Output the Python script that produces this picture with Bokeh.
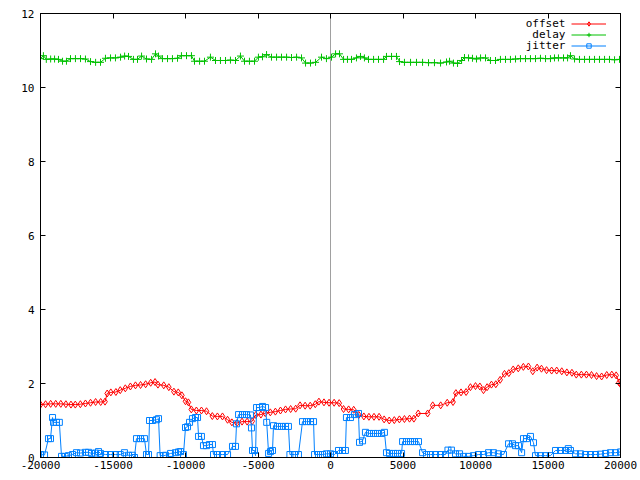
from bokeh.plotting import figure
from bokeh.models import (FixedTicker, LinearAxis, Span, Legend, LegendItem, Label,
                          Range1d, CustomJSTickFormatter)
from bokeh.embed import file_html
from bokeh.resources import INLINE

# ---------------- data ----------------
x_ticks = [-20000, -15000, -10000, -5000, 0, 5000, 10000, 15000, 20000]
x_tick_labels = ["-20000", "-15000", "-10000", "-5000", "0", "5000", "10000", "15000", "20000"]
y_ticks = [0, 2, 4, 6, 8, 10, 12]
y_tick_labels = ["0", "2", "4", "6", "8", "10", "12"]
series_names = ["offset", "delay", "jitter"]

offset_x = [-20000, -19650, -19300, -18950, -18600, -18250, -17900, -17600, -17250, -16900,
            -16550, -16200, -15850, -15550, -15400, -15150, -14800, -14500, -14150, -13800,
            -13450, -13100, -12750, -12400, -12100, -11900, -11500, -11150, -10800, -10500,
            -10250, -10000, -9800, -9600, -9250, -8900, -8550, -8150, -7800, -7450,
            -7100, -6800, -6450, -6100, -5750, -5400, -5150, -4800, -4500, -4150,
            -3800, -3450, -3100, -2750, -2400, -2100, -1750, -1400, -1050, -800,
            -450, -100, 250, 600, 900, 1250, 1600, 1950, 2300, 2650,
            3000, 3350, 3700, 4050, 4400, 4750, 5100, 5450, 5750, 6050,
            6700, 7050, 7600, 8050, 8450, 8650, 9000, 9350, 9650, 10000,
            10300, 10550, 10800, 11100, 11400, 11700, 12000, 12300, 12600, 12950,
            13300, 13650, 13950, 14250, 14550, 14900, 15250, 15600, 15950, 16300,
            16650, 16950, 17300, 17650, 18000, 18350, 18700, 19050, 19400, 19700,
            19900, 20000]
offset_y = [1.43, 1.44, 1.45, 1.45, 1.45, 1.44, 1.43, 1.43, 1.44, 1.46,
            1.48, 1.50, 1.50, 1.51, 1.73, 1.76, 1.77, 1.82, 1.87, 1.92,
            1.95, 1.96, 1.98, 2.02, 2.04, 1.97, 1.95, 1.90, 1.78, 1.76,
            1.68, 1.52, 1.49, 1.30, 1.27, 1.27, 1.25, 1.12, 1.11, 1.11,
            1.02, 0.95, 0.93, 0.97, 0.97, 0.98, 1.15, 1.16, 1.20, 1.22,
            1.24, 1.27, 1.30, 1.31, 1.32, 1.41, 1.40, 1.40, 1.44, 1.51,
            1.49, 1.48, 1.48, 1.47, 1.31, 1.30, 1.29, 1.15, 1.11, 1.10,
            1.10, 1.10, 1.03, 1.00, 1.01, 1.03, 1.04, 1.05, 1.05, 1.19,
            1.19, 1.41, 1.41, 1.48, 1.50, 1.74, 1.76, 1.77, 1.90, 1.93,
            1.92, 1.82, 1.90, 1.97, 1.98, 2.10, 2.26, 2.28, 2.38, 2.41,
            2.45, 2.46, 2.33, 2.43, 2.40, 2.36, 2.35, 2.35, 2.33, 2.30,
            2.29, 2.24, 2.24, 2.24, 2.23, 2.20, 2.19, 2.23, 2.24, 2.22,
            2.03, 1.98]

delay_x = [-20000, -19800, -19600, -19300, -19030, -18760, -18480, -18210, -17930, -17590,
           -17240, -16900, -16550, -16200, -15860, -15520, -15170, -14830, -14480, -14200,
           -13930, -13590, -13310, -13030, -12690, -12340, -12070, -11860, -11590, -11240,
           -10900, -10550, -10280, -9930, -9590, -9380, -9030, -8690, -8280, -7930,
           -7590, -7240, -6900, -6550, -6210, -5930, -5590, -5240, -4970, -4690,
           -4410, -4070, -3720, -3380, -3030, -2690, -2340, -2000, -1720, -1380,
           -1030, -620, -280, 70, 350, 620, 900, 1170, 1450, 1790,
           2070, 2340, 2620, 2970, 3310, 3660, 3860, 4210, 4550, 4760,
           5100, 5520, 5930, 6350, 6760, 7170, 7590, 8000, 8210, 8480,
           8760, 9040, 9240, 9520, 9790, 10070, 10350, 10690, 11030, 11380,
           11720, 12070, 12410, 12760, 13100, 13450, 13790, 14140, 14480, 14830,
           15170, 15450, 15720, 16070, 16350, 16550, 16830, 17170, 17520, 17860,
           18210, 18550, 18900, 19240, 19590, 19930]
delay_y = [10.78, 10.86, 10.76, 10.77, 10.77, 10.76, 10.71, 10.71, 10.78, 10.78,
           10.78, 10.77, 10.70, 10.68, 10.68, 10.79, 10.80, 10.80, 10.82, 10.85,
           10.84, 10.76, 10.76, 10.85, 10.77, 10.76, 10.91, 10.85, 10.78, 10.78,
           10.78, 10.79, 10.86, 10.86, 10.86, 10.71, 10.71, 10.71, 10.82, 10.73,
           10.73, 10.73, 10.74, 10.73, 10.85, 10.71, 10.71, 10.71, 10.82, 10.83,
           10.89, 10.82, 10.82, 10.82, 10.82, 10.81, 10.82, 10.80, 10.66, 10.66,
           10.68, 10.82, 10.78, 10.82, 10.91, 10.91, 10.76, 10.76, 10.76, 10.80,
           10.84, 10.80, 10.76, 10.76, 10.76, 10.76, 10.84, 10.84, 10.84, 10.70,
           10.68, 10.68, 10.68, 10.68, 10.67, 10.67, 10.66, 10.69, 10.71, 10.66,
           10.65, 10.73, 10.81, 10.80, 10.79, 10.77, 10.80, 10.80, 10.73, 10.73,
           10.76, 10.76, 10.76, 10.77, 10.78, 10.78, 10.78, 10.78, 10.79, 10.78,
           10.78, 10.80, 10.80, 10.80, 10.80, 10.86, 10.77, 10.76, 10.76, 10.76,
           10.76, 10.76, 10.76, 10.76, 10.75, 10.76]

jitter_x = [-20000, -19720, -19450, -19310, -19170, -19100, -18900, -18700, -18550, -18300,
            -18070, -17790, -17520, -17240, -16900, -16690, -16480, -16210, -16000, -15860,
            -15520, -15170, -14830, -14500, -14210, -13930, -13660, -13520, -13380, -13100,
            -12830, -12690, -12550, -12480, -12280, -12000, -11860, -11750, -11520, -11380,
            -11030, -10690, -10480, -10340, -10140, -10000, -9860, -9720, -9520, -9310,
            -9170, -9100, -8900, -8760, -8550, -8350, -8140, -8070, -7790, -7450,
            -7100, -6760, -6550, -6480, -6340, -6070, -5790, -5520, -5450, -5380,
            -5240, -5170, -5100, -4900, -4690, -4480, -4400, -4270, -4140, -4000,
            -3930, -3650, -3380, -3100, -2900, -2800, -2480, -2210, -1930, -1650,
            -1380, -1170, -1100, -830, -550, -280, 0, 280, 550, 830,
            1030, 1100, 1380, 1650, 1930, 2000, 2210, 2410, 2690, 2970,
            3240, 3520, 3720, 3860, 4070, 4350, 4620, 4900, 4970, 5240,
            5520, 5790, 6070, 6350, 6620, 6900, 7240, 7590, 7930, 8100,
            8340, 8620, 8900, 9170, 9520, 9860, 10200, 10550, 10900, 11240,
            11580, 11930, 12280, 12550, 12760, 12970, 13180, 13310, 13520, 13790,
            14000, 14140, 14480, 14830, 15170, 15520, 15860, 16210, 16400, 16550,
            16900, 17240, 17590, 17930, 18280, 18620, 18970, 19310, 19660, 20000]
jitter_y = [0.08, 0.07, 0.51, 0.51, 1.08, 0.95, 0.95, 0.95, 0.03, 0.03,
            0.05, 0.08, 0.13, 0.12, 0.14, 0.14, 0.11, 0.12, 0.16, 0.11,
            0.08, 0.08, 0.08, 0.08, 0.13, 0.06, 0.06, 0.00, 0.51, 0.51,
            0.51, 0.08, 0.08, 1.00, 1.00, 1.02, 1.05, 0.05, 0.05, 0.06,
            0.11, 0.13, 0.15, 0.16, 0.08, 0.81, 0.83, 0.95, 1.05, 1.08,
            1.08, 0.57, 0.57, 0.32, 0.32, 0.35, 0.35, 0.08, 0.08, 0.08,
            0.08, 0.30, 0.30, 0.91, 1.16, 1.16, 1.16, 1.15, 0.80, 0.19,
            0.19, 0.05, 1.35, 1.35, 1.38, 1.35, 0.95, 0.11, 0.16, 0.19,
            0.86, 0.84, 0.84, 0.84, 0.84, 0.08, 0.08, 0.08, 0.97, 0.97,
            0.97, 0.97, 0.08, 0.08, 0.08, 0.10, 0.10, 0.08, 0.19, 0.19,
            0.19, 1.08, 1.08, 1.16, 1.19, 0.41, 0.45, 0.68, 0.65, 0.65,
            0.65, 0.65, 0.68, 0.13, 0.11, 0.11, 0.11, 0.11, 0.43, 0.43,
            0.43, 0.43, 0.43, 0.13, 0.08, 0.08, 0.08, 0.08, 0.08, 0.20,
            0.20, 0.10, 0.10, 0.03, 0.03, 0.05, 0.08, 0.08, 0.13, 0.13,
            0.10, 0.08, 0.37, 0.37, 0.32, 0.32, 0.13, 0.51, 0.51, 0.57,
            0.40, 0.05, 0.05, 0.05, 0.05, 0.19, 0.19, 0.19, 0.24, 0.19,
            0.10, 0.10, 0.08, 0.08, 0.08, 0.09, 0.11, 0.13, 0.13, 0.15]

# ---------------- styling ----------------
FONT = "DejaVu Sans Mono"
FS = "11px"
RED, GREEN, BLUE = "#ff0000", "#00c000", "#0080ff"

p = figure(width=640, height=480, output_backend="svg", toolbar_location=None,
           x_range=Range1d(-20000, 20000), y_range=Range1d(0, 12),
           min_border_left=40, min_border_right=20, min_border_top=13, min_border_bottom=23)
p.xgrid.visible = False
p.ygrid.visible = False
p.outline_line_color = "black"
p.outline_line_alpha = 1.0
p.background_fill_color = "white"
p.border_fill_color = "white"


def style_axis(ax, ticks, labels, standoff):
    ax.ticker = FixedTicker(ticks=ticks)
    ax.major_label_overrides = {t: l for t, l in zip(ticks, labels)}
    ax.axis_line_color = "black"
    ax.major_tick_line_color = "black"
    ax.major_tick_in = 5
    ax.major_tick_out = 0
    ax.minor_tick_line_color = None
    ax.major_label_text_font = FONT
    ax.major_label_text_font_size = FS
    ax.major_label_text_color = "black"
    ax.major_label_standoff = standoff


style_axis(p.xaxis[0], x_ticks, x_tick_labels, 3)
style_axis(p.yaxis[0], y_ticks, y_tick_labels, 6)

blank = CustomJSTickFormatter(code="return ''")
top = LinearAxis(formatter=blank)
right = LinearAxis(formatter=blank)
for ax, ticks in ((top, x_ticks), (right, y_ticks)):
    ax.ticker = FixedTicker(ticks=ticks)
    ax.axis_line_color = "black"
    ax.major_tick_line_color = "black"
    ax.major_tick_in = 5
    ax.major_tick_out = 0
    ax.minor_tick_line_color = None
    ax.major_label_text_font_size = "0px"
    ax.major_label_standoff = 0
p.add_layout(top, "above")
p.add_layout(right, "right")

p.add_layout(Span(location=0, dimension="height", line_color="#a0a0a0", line_width=1,
                  level="underlay"))

l_off = p.line(offset_x, offset_y, line_color=RED, line_width=1)
s_off = p.scatter(offset_x, offset_y, marker="diamond", size=7, line_color=RED,
                  fill_color=None, line_width=1)
l_del = p.line(delay_x, delay_y, line_color=GREEN, line_width=1)
s_del = p.scatter(delay_x, delay_y, marker="cross", size=7, line_color=GREEN, line_width=1)
l_jit = p.line(jitter_x, jitter_y, line_color=BLUE, line_width=1)
s_jit = p.scatter(jitter_x, jitter_y, marker="square", size=6, line_color=BLUE,
                  fill_color=None, line_width=1)

legend = Legend(items=[LegendItem(label=" ", renderers=[l_off, s_off]),
                       LegendItem(label=" ", renderers=[l_del, s_del]),
                       LegendItem(label=" ", renderers=[l_jit, s_jit])],
                location=(531, 406), orientation="vertical",
                glyph_width=35, glyph_height=11, label_height=11, label_width=1,
                label_standoff=0, spacing=0, padding=0, margin=0,
                label_text_font=FONT, label_text_font_size=FS,
                background_fill_alpha=0, border_line_alpha=0)
p.add_layout(legend, "center")

for name, yv in zip(series_names, [11.72, 11.43, 11.14]):
    p.add_layout(Label(x=16200, y=yv, text=name, text_align="right", text_baseline="middle",
                       text_font=FONT, text_font_size=FS, text_color="black"))

open("out.html", "w").write(file_html(p, INLINE))
